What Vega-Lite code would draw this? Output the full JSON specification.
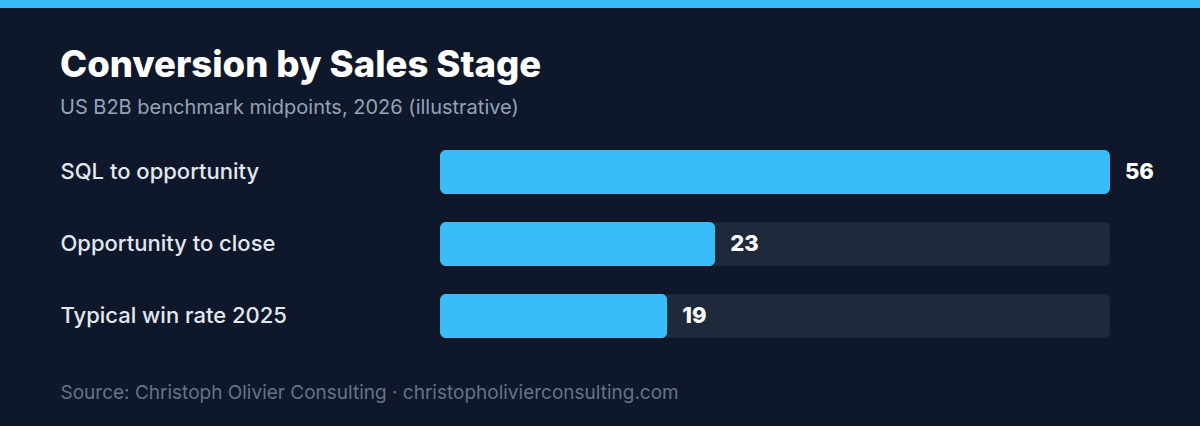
{
  "$schema": "https://vega.github.io/schema/vega-lite/v6.json",
  "background": "#0f172a",
  "padding": {"left": -4, "top": 0, "right": 0, "bottom": 28},
  "spacing": 39,
  "config": {
    "font": "Inter",
    "view": {"stroke": null}
  },
  "vconcat": [
    {
      "width": 760,
      "height": 8,
      "data": {"values": [{"band": "top"}]},
      "mark": {"type": "rect", "color": "#38bdf8"},
      "encoding": {
        "y": {
          "field": "band",
          "type": "nominal",
          "scale": {"paddingInner": 0, "paddingOuter": 0},
          "axis": {
            "title": null,
            "labels": false,
            "domain": false,
            "ticks": true,
            "tickSize": 440,
            "tickWidth": 8,
            "tickColor": "#38bdf8",
            "tickCap": "butt",
            "translate": 0,
            "minExtent": 440,
            "maxExtent": 440
          }
        }
      }
    },
    {
      "width": 670,
      "height": 216,
      "title": {
        "text": "Conversion by Sales Stage",
        "subtitle": "US B2B benchmark midpoints, 2026 (illustrative)",
        "anchor": "start",
        "frame": "group",
        "dx": -380,
        "offset": 18,
        "fontSize": 36.5,
        "fontWeight": 800,
        "color": "#ffffff",
        "subtitleFontSize": 20,
        "subtitleColor": "#94a3b8",
        "subtitlePadding": 14
      },
      "data": {
        "values": [
          {"stage": "SQL to opportunity", "rate": 56, "max": 56},
          {"stage": "Opportunity to close", "rate": 23, "max": 56},
          {"stage": "Typical win rate 2025", "rate": 19, "max": 56}
        ]
      },
      "encoding": {
        "y": {
          "field": "stage",
          "type": "nominal",
          "sort": null,
          "scale": {"paddingInner": 0.389, "paddingOuter": 0.194},
          "axis": {
            "title": null,
            "domain": false,
            "ticks": false,
            "labelAlign": "left",
            "labelPadding": 380,
            "labelFontSize": 22,
            "labelFontWeight": 500,
            "labelColor": "#e2e8f0",
            "labelLimit": 370,
            "minExtent": 440,
            "maxExtent": 440
          }
        }
      },
      "layer": [
        {
          "mark": {"type": "bar", "color": "#1e293b", "cornerRadius": 6},
          "encoding": {
            "x": {
              "field": "max",
              "type": "quantitative",
              "scale": {"domain": [0, 56], "nice": false},
              "axis": {
                "labels": false,
                "ticks": false,
                "domain": false,
                "grid": false,
                "title": "Source: Christoph Olivier Consulting · christopholivierconsulting.com",
                "titleX": -380,
                "titleY": 46,
                "titleAlign": "left",
                "titleBaseline": "alphabetic",
                "titleFontSize": 19,
                "titleFontWeight": 400,
                "titleColor": "#64748b"
              }
            }
          }
        },
        {
          "mark": {"type": "bar", "color": "#38bdf8", "cornerRadius": 6},
          "encoding": {
            "x": {"field": "rate", "type": "quantitative"}
          }
        },
        {
          "mark": {
            "type": "text",
            "align": "left",
            "baseline": "middle",
            "dx": 15,
            "fontSize": 22,
            "fontWeight": 800,
            "color": "#ffffff"
          },
          "encoding": {
            "x": {"field": "rate", "type": "quantitative"},
            "text": {"field": "rate", "type": "quantitative"}
          }
        }
      ]
    }
  ]
}
